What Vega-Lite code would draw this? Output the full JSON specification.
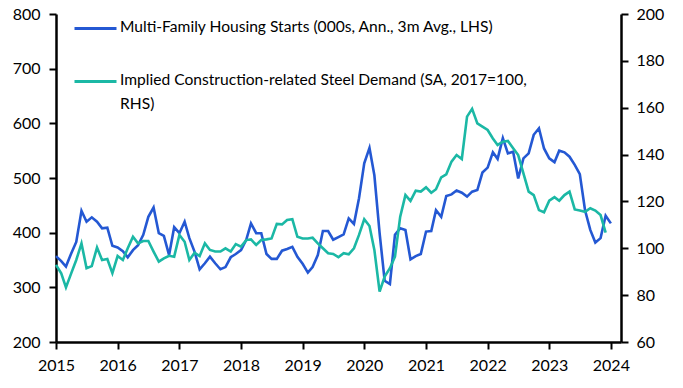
{
  "$schema": "https://vega.github.io/schema/vega-lite/v6.json",
  "autosize": {"type": "none"},
  "width": 565,
  "height": 328,
  "padding": {"left": 56, "top": 14, "right": 62, "bottom": 46},
  "background": "white",
  "config": {"view": {"stroke": null}, "font": "Lato"},
  "data": {"values": [
    {"d":"2015-01-01","s":357,"t":92.9},{"d":"2015-02-01","s":348,"t":89.3},{"d":"2015-03-01","s":338,"t":83.3},{"d":"2015-04-01","s":362,"t":89.3},{"d":"2015-05-01","s":383,"t":95},{"d":"2015-06-01","s":440,"t":102.1},{"d":"2015-07-01","s":420,"t":91.5},{"d":"2015-08-01","s":428,"t":92.4},{"d":"2015-09-01","s":420,"t":100.3},{"d":"2015-10-01","s":408,"t":95},{"d":"2015-11-01","s":409,"t":95.4},{"d":"2015-12-01","s":376,"t":89.4},
    {"d":"2016-01-01","s":373,"t":96.7},{"d":"2016-02-01","s":366,"t":95},{"d":"2016-03-01","s":355,"t":100},{"d":"2016-04-01","s":368,"t":104.9},{"d":"2016-05-01","s":377,"t":102.1},{"d":"2016-06-01","s":396,"t":103.1},{"d":"2016-07-01","s":429,"t":103.1},{"d":"2016-08-01","s":446,"t":98.6},{"d":"2016-09-01","s":399,"t":94.3},{"d":"2016-10-01","s":394,"t":95.7},{"d":"2016-11-01","s":359,"t":96.8},{"d":"2016-12-01","s":410,"t":96.4},
    {"d":"2017-01-01","s":399,"t":105.7},{"d":"2017-02-01","s":420,"t":102.8},{"d":"2017-03-01","s":390,"t":95},{"d":"2017-04-01","s":365,"t":98.1},{"d":"2017-05-01","s":333,"t":96.7},{"d":"2017-06-01","s":344,"t":102.1},{"d":"2017-07-01","s":356,"t":99.3},{"d":"2017-08-01","s":344,"t":98.6},{"d":"2017-09-01","s":333,"t":98.6},{"d":"2017-10-01","s":337,"t":100},{"d":"2017-11-01","s":355,"t":98.6},{"d":"2017-12-01","s":361,"t":101.8},
    {"d":"2018-01-01","s":368,"t":100.7},{"d":"2018-02-01","s":387,"t":103.5},{"d":"2018-03-01","s":417,"t":103.8},{"d":"2018-04-01","s":399,"t":101.4},{"d":"2018-05-01","s":399,"t":103.5},{"d":"2018-06-01","s":361,"t":103.8},{"d":"2018-07-01","s":352,"t":104.2},{"d":"2018-08-01","s":352,"t":110.4},{"d":"2018-09-01","s":367,"t":110.2},{"d":"2018-10-01","s":370,"t":112.1},{"d":"2018-11-01","s":374,"t":112.4},{"d":"2018-12-01","s":356,"t":104.9},
    {"d":"2019-01-01","s":343,"t":104.2},{"d":"2019-02-01","s":327,"t":104.2},{"d":"2019-03-01","s":337,"t":104.5},{"d":"2019-04-01","s":359,"t":102.1},{"d":"2019-05-01","s":403,"t":100},{"d":"2019-06-01","s":403,"t":97.9},{"d":"2019-07-01","s":387,"t":97.6},{"d":"2019-08-01","s":392,"t":96.2},{"d":"2019-09-01","s":397,"t":97.9},{"d":"2019-10-01","s":426,"t":97.4},{"d":"2019-11-01","s":416,"t":100},{"d":"2019-12-01","s":463,"t":105.7},
    {"d":"2020-01-01","s":527,"t":112.4},{"d":"2020-02-01","s":555,"t":109.5},{"d":"2020-03-01","s":505,"t":99.3},{"d":"2020-04-01","s":399,"t":81.5},{"d":"2020-05-01","s":312,"t":87.9},{"d":"2020-06-01","s":306,"t":91.5},{"d":"2020-07-01","s":396,"t":96.4},{"d":"2020-08-01","s":408,"t":113.5},{"d":"2020-09-01","s":405,"t":122.7},{"d":"2020-10-01","s":351,"t":120.2},{"d":"2020-11-01","s":357,"t":124.6},{"d":"2020-12-01","s":361,"t":124.2},
    {"d":"2021-01-01","s":402,"t":126},{"d":"2021-02-01","s":403,"t":123.7},{"d":"2021-03-01","s":441,"t":125.2},{"d":"2021-04-01","s":429,"t":130.3},{"d":"2021-05-01","s":467,"t":131.6},{"d":"2021-06-01","s":470,"t":137},{"d":"2021-07-01","s":477,"t":139.8},{"d":"2021-08-01","s":473,"t":138.1},{"d":"2021-09-01","s":466,"t":156.2},{"d":"2021-10-01","s":475,"t":159.5},{"d":"2021-11-01","s":478,"t":153.3},{"d":"2021-12-01","s":510,"t":151.9},
    {"d":"2022-01-01","s":519,"t":150.5},{"d":"2022-02-01","s":547,"t":146.9},{"d":"2022-03-01","s":535,"t":144.1},{"d":"2022-04-01","s":573,"t":145.5},{"d":"2022-05-01","s":545,"t":145.8},{"d":"2022-06-01","s":548,"t":142.7},{"d":"2022-07-01","s":499,"t":139.8},{"d":"2022-08-01","s":536,"t":132},{"d":"2022-09-01","s":545,"t":124.2},{"d":"2022-10-01","s":579,"t":122.7},{"d":"2022-11-01","s":591,"t":116.3},{"d":"2022-12-01","s":554,"t":115.4},
    {"d":"2023-01-01","s":536,"t":120.3},{"d":"2023-02-01","s":529,"t":121.8},{"d":"2023-03-01","s":550,"t":120.3},{"d":"2023-04-01","s":547,"t":122.7},{"d":"2023-05-01","s":539,"t":124.2},{"d":"2023-06-01","s":524,"t":116.6},{"d":"2023-07-01","s":507,"t":116.1},{"d":"2023-08-01","s":441,"t":115.6},{"d":"2023-09-01","s":405,"t":117.1},{"d":"2023-10-01","s":382,"t":116.1},{"d":"2023-11-01","s":390,"t":114.2},{"d":"2023-12-01","s":431,"t":106.7},
    {"d":"2024-01-01","s":417,"t":null}
  ]},
  "encoding": {
    "x": {
      "field": "d", "type": "temporal",
      "scale": {"domain": ["2015-01-01", "2024-03-01"]},
      "axis": {
        "title": null, "grid": false, "format": "%Y",
        "values": [{"year":2015},{"year":2016},{"year":2017},{"year":2018},{"year":2019},{"year":2020},{"year":2021},{"year":2022},{"year":2023},{"year":2024}],
        "labelFont": "Lato", "labelFontSize": 16, "labelColor": "black",
        "domainColor": "black", "domainWidth": 2.5, "tickColor": "black", "tickWidth": 2, "tickSize": 7,
        "labelPadding": 8, "labelFlush": false, "labelOverlap": false
      }
    }
  },
  "layer": [
    {
      "mark": {"type": "line", "strokeWidth": 2.6, "clip": false},
      "encoding": {
        "y": {
          "field": "s", "type": "quantitative",
          "scale": {"domain": [200, 800], "nice": false, "zero": false},
          "axis": {
            "orient": "left", "title": null, "grid": false,
            "values": [200, 300, 400, 500, 600, 700, 800],
            "labelFont": "Lato", "labelFontSize": 16, "labelColor": "black",
            "domainColor": "black", "domainWidth": 2.5, "tickColor": "black", "tickWidth": 2, "tickSize": 7,
            "labelPadding": 9, "labelFlush": false, "labelOverlap": false
          }
        },
        "color": {"datum": "Multi-Family Housing Starts (000s, Ann., 3m Avg., LHS)"}
      }
    },
    {
      "mark": {"type": "line", "strokeWidth": 2.6, "clip": false},
      "encoding": {
        "y": {
          "field": "t", "type": "quantitative",
          "scale": {"domain": [60, 200], "nice": false, "zero": false},
          "axis": {
            "orient": "right", "title": null, "grid": false,
            "values": [60, 80, 100, 120, 140, 160, 180, 200],
            "labelFont": "Lato", "labelFontSize": 16, "labelColor": "black",
            "domainColor": "black", "domainWidth": 2.5, "tickColor": "black", "tickWidth": 2, "tickSize": 7,
            "labelPadding": 8, "labelFlush": false, "labelOverlap": false
          }
        },
        "color": {
          "datum": "Implied Construction-related Steel Demand (SA, 2017=100, RHS)",
          "scale": {
            "domain": ["Multi-Family Housing Starts (000s, Ann., 3m Avg., LHS)", "Implied Construction-related Steel Demand (SA, 2017=100, RHS)"],
            "range": ["#2458D3", "#1BB8A5"]
          },
          "legend": {
            "title": null, "orient": "none", "legendX": 17, "legendY": -8,
            "symbolType": "stroke", "symbolSize": 1764, "symbolStrokeWidth": 3,
            "labelFont": "Lato", "labelFontSize": 15.6, "labelColor": "black",
            "labelOffset": 2, "labelLimit": 1000, "rowPadding": 23, "padding": 0,
            "labelBaseline": "top",
            "labelExpr": "datum.label == 'Implied Construction-related Steel Demand (SA, 2017=100, RHS)' ? ['Implied Construction-related Steel Demand (SA, 2017=100,', 'RHS)'] : datum.label",
            "encode": {"labels": {"update": {"dy": {"value": -9}, "lineHeight": {"value": 24}}}}
          }
        }
      }
    }
  ],
  "resolve": {"scale": {"y": "independent"}}
}
